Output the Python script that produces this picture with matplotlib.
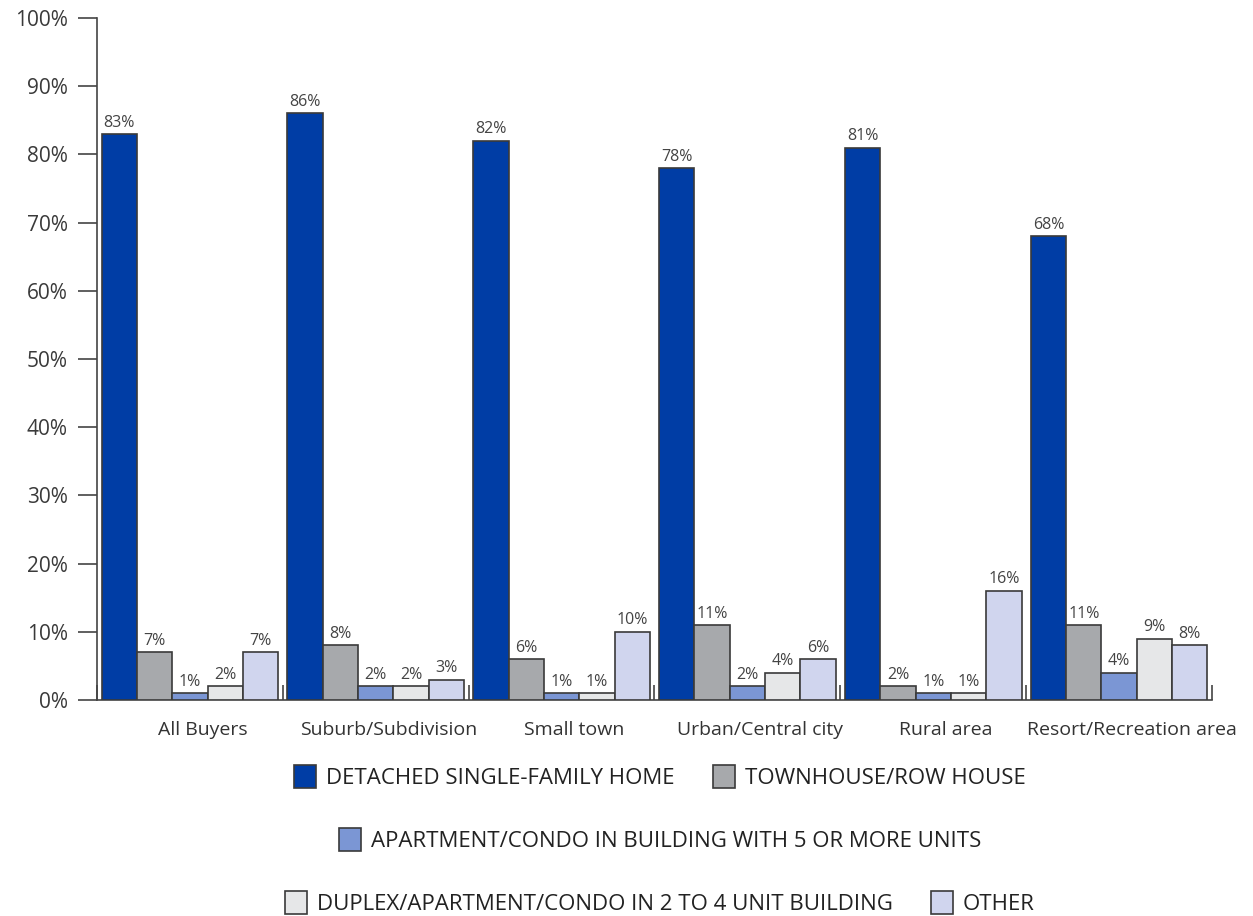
import numpy as np
import matplotlib.pyplot as plt
import matplotlib.transforms as mtransforms
from matplotlib.patches import Patch

# home type share by location
locations = ["All Buyers", "Suburb/Subdivision", "Small town",
             "Urban/Central city", "Rural area", "Resort/Recreation area"]
home_types = ["DETACHED SINGLE-FAMILY HOME", "TOWNHOUSE/ROW HOUSE",
              "APARTMENT/CONDO IN BUILDING WITH 5 OR MORE UNITS",
              "DUPLEX/APARTMENT/CONDO IN 2 TO 4 UNIT BUILDING", "OTHER"]
detached = [83, 86, 82, 78, 81, 68]
townhouse = [7, 8, 6, 11, 2, 11]
apt_5plus = [1, 2, 1, 2, 1, 4]
duplex = [2, 2, 1, 4, 1, 9]
other = [7, 3, 10, 6, 16, 8]

series = [detached, townhouse, apt_5plus, duplex, other]
colors = ["#003DA5", "#A7A9AC", "#7B96D4", "#E6E7E8", "#D0D5EE"]

plt.rcParams['font.family'] = ['Open Sans', 'DejaVu Sans']

fig = plt.figure(figsize=(12.53, 9.16), dpi=100)
ax = fig.add_axes([97 / 1253, 1 - 700 / 916, (1212 - 97) / 1253, 682 / 916])

x = np.arange(len(locations))
w = 0.19
for i, vals in enumerate(series):
    pos = x + (i - 2) * w
    ax.bar(pos, vals, width=w, color=colors[i], edgecolor="#3a3a3a",
           linewidth=1.2, zorder=3)
    for px, v in zip(pos, vals):
        ax.text(px, v + 0.5, f"{v}%", ha="center", va="bottom",
                fontsize=11.5, color="#444444")

ax.set_xlim(-0.5, len(locations) - 0.5)
ax.set_ylim(0, 100)
ax.set_yticks(np.arange(0, 101, 10))
ax.set_yticklabels([f"{v}%" for v in range(0, 101, 10)])
ax.tick_params(axis="y", direction="out", length=14, width=1.2,
               color="#444444", labelsize=15, labelcolor="#3a3a3a", pad=7)

# category labels, nudged a bit to the right
ax.set_xticks(x)
ax.set_xticklabels(locations)
ax.tick_params(axis="x", which="major", length=0, labelsize=14,
               labelcolor="#333333", pad=15)
shift = mtransforms.ScaledTranslation(13 / 100, 0, fig.dpi_scale_trans)
for lab in ax.get_xticklabels():
    lab.set_transform(lab.get_transform() + shift)

# small separators between groups
ax.set_xticks(np.arange(-0.5, len(locations)), minor=True)
ax.tick_params(axis="x", which="minor", direction="in", length=11,
               width=1.2, color="#444444")

for s in ["top", "right"]:
    ax.spines[s].set_visible(False)
for s in ["left", "bottom"]:
    ax.spines[s].set_color("#444444")
    ax.spines[s].set_linewidth(1.2)

handles = [Patch(facecolor=c, edgecolor="#3a3a3a", linewidth=1.2) for c in colors]
rows = [([0, 1], 1 - 777 / 916), ([2], 1 - 840 / 916), ([3, 4], 1 - 903 / 916)]
for idx, yc in rows:
    fig.legend([handles[i] for i in idx], [home_types[i] for i in idx],
               loc="center", bbox_to_anchor=(660 / 1253, yc), ncol=len(idx),
               frameon=False, handlelength=1.0, handleheight=1.2,
               handletextpad=0.45, columnspacing=1.7,
               prop={'size': 16})
for leg in fig.legends:
    for t in leg.get_texts():
        t.set_color("#222222")

fig.savefig("out.png", dpi=100)
